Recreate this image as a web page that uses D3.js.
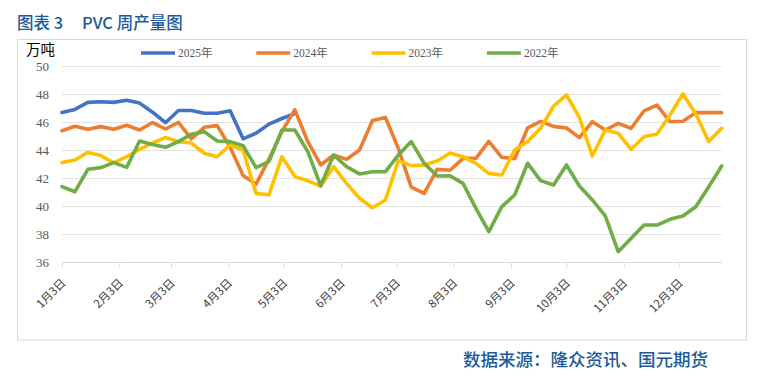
<!DOCTYPE html>
<html><head><meta charset="utf-8">
<script src="https://cdn.jsdelivr.net/npm/d3@7"></script>
<style>html,body{margin:0;padding:0;background:#fff;}svg{display:block;}</style>
</head><body>
<script>
const seriesNames = ["2025年","2024年","2023年","2022年"];
const seriesColors = ["#4472c4","#ed7d31","#ffc000","#70ad47"];
const tickLabels = ["1月3日","2月3日","3月3日","4月3日","5月3日","6月3日","7月3日","8月3日","9月3日","10月3日","11月3日","12月3日"];
const yTicks = [36,38,40,42,44,46,48,50];

const v2025 = [46.67,46.9,47.4,47.45,47.4,47.55,47.35,46.7,45.95,46.82,46.82,46.63,46.63,46.8,44.8,45.2,45.85,46.25,46.6];
const v2024 = [45.38,45.7,45.48,45.67,45.48,45.77,45.43,45.96,45.5,45.98,44.8,45.62,45.74,44.2,42.18,41.56,43.35,45.31,46.88,44.6,42.93,43.64,43.33,44.0,46.1,46.33,44.12,41.35,40.9,42.62,42.55,43.4,43.4,44.62,43.48,43.38,45.58,46.04,45.69,45.57,44.88,46.02,45.43,45.9,45.55,46.8,47.2,46.02,46.05,46.67,46.67,46.67];
const v2023 = [43.1,43.29,43.83,43.6,43.08,43.52,44.05,44.5,44.89,44.6,44.5,43.76,43.52,44.36,44.0,40.9,40.79,43.52,42.1,41.8,41.42,42.81,41.62,40.55,39.88,40.43,43.24,42.88,42.93,43.21,43.78,43.52,43.05,42.33,42.21,44.0,44.6,45.55,47.14,47.93,46.32,43.57,45.43,45.19,44.05,44.95,45.14,46.5,48.0,46.57,44.6,45.55];
const v2022 = [41.38,41.02,42.62,42.74,43.1,42.76,44.64,44.4,44.19,44.6,45.13,45.31,44.64,44.6,44.31,42.74,43.17,45.43,45.43,43.88,41.45,43.64,42.81,42.29,42.45,42.45,43.64,44.6,43.05,42.14,42.15,41.62,39.83,38.17,39.95,40.79,43.05,41.81,41.5,42.93,41.43,40.43,39.29,36.74,37.69,38.64,38.64,39.05,39.29,39.95,41.38,42.86];
const allSeries = [v2025, v2024, v2023, v2022];

const W = 762, H = 381;
const svg = d3.select("body").append("svg").attr("width", W).attr("height", H);
svg.append("rect").attr("width", W).attr("height", H).attr("fill", "#fff");

// title
const title = svg.append("text").attr("y", 29).attr("fill", "#215a98")
  .style("font-family", "'Noto Sans CJK SC', sans-serif").style("font-size", "16.5px").style("font-weight", 500);
title.append("tspan").attr("x", 17).text("图表 3");
title.append("tspan").attr("x", 82).text("PVC 周产量图");

// frame
svg.append("rect").attr("x", 17.5).attr("y", 39.5).attr("width", 729).attr("height", 300.5)
  .attr("fill", "none").attr("stroke", "#d9d9d9").attr("stroke-width", 1);

// source
svg.append("text").attr("x", 463).attr("y", 366).attr("fill", "#215a98")
  .style("font-family", "'Noto Sans CJK SC', sans-serif").style("font-size", "17.5px").style("font-weight", 500)
  .text("数据来源：隆众资讯、国元期货");

// scales
const start = new Date(2025, 0, 3), end = new Date(2025, 11, 26);
const x = d3.scaleTime().domain([start, end]).range([62, 721.7]);
const y = d3.scaleLinear().domain([36, 50]).range([262, 66]);
const weeks = d3.range(52).map(i => d3.timeDay.offset(start, 7 * i));
const monthTicks = d3.range(12).map(m => new Date(2025, m, 3));

// grid
svg.append("g").selectAll("line").data(yTicks.filter(t => t > 36)).join("line")
  .attr("x1", 62).attr("x2", 721.7).attr("y1", d => y(d) + 0.5).attr("y2", d => y(d) + 0.5)
  .attr("stroke", "#e3e3e3").attr("stroke-width", 1);

// x axis
const xAxis = d3.axisBottom(x).tickValues(monthTicks).tickSize(5).tickFormat((d, i) => tickLabels[i]);
const gx = svg.append("g").attr("transform", `translate(0,${y(36) + 0.5})`).call(xAxis);
gx.select(".domain").attr("stroke", "#d9d9d9").attr("d", `M62,0H721.7`);
gx.selectAll(".tick line").attr("stroke", "#d9d9d9");
gx.selectAll(".tick text")
  .attr("fill", "#404040").style("font-family", "'Noto Sans CJK SC', sans-serif").style("font-size", "11.5px")
  .attr("text-anchor", "end").attr("dy", null).attr("y", null)
  .attr("transform", "translate(4,21) rotate(-45)");

// y axis labels
svg.append("g").selectAll("text").data(yTicks).join("text")
  .attr("x", 49).attr("y", d => y(d)).attr("dy", "0.35em").attr("text-anchor", "end")
  .attr("fill", "#595959").style("font-family", "'Liberation Serif', serif").style("font-size", "13px")
  .text(d => d);

// unit
svg.append("text").attr("x", 26).attr("y", 55).attr("fill", "#000")
  .style("font-family", "'Noto Sans CJK SC', sans-serif").style("font-size", "14.5px").text("万吨");

// lines
const line = d3.line().x((d, i) => x(weeks[i])).y(d => y(d)).curve(d3.curveLinear);
allSeries.forEach((s, k) => {
  svg.append("path").datum(s).attr("d", line).attr("fill", "none")
    .attr("stroke", seriesColors[k]).attr("stroke-width", 3.6)
    .attr("stroke-linejoin", "round").attr("stroke-linecap", "round");
});

// legend
const lg = svg.append("g").selectAll("g").data(seriesNames).join("g")
  .attr("transform", (d, i) => `translate(${141 + i * 115.3},53)`);
lg.append("line").attr("x1", 0).attr("x2", 34).attr("y1", 0).attr("y2", 0)
  .attr("stroke", (d, i) => seriesColors[i]).attr("stroke-width", 3.6);
lg.append("text").attr("x", 37).attr("dy", "0.35em").attr("fill", "#595959")
  .style("font-family", "'Liberation Serif', 'Noto Sans CJK SC', serif").style("font-size", "11.5px")
  .text(d => d);
</script>
</body></html>
